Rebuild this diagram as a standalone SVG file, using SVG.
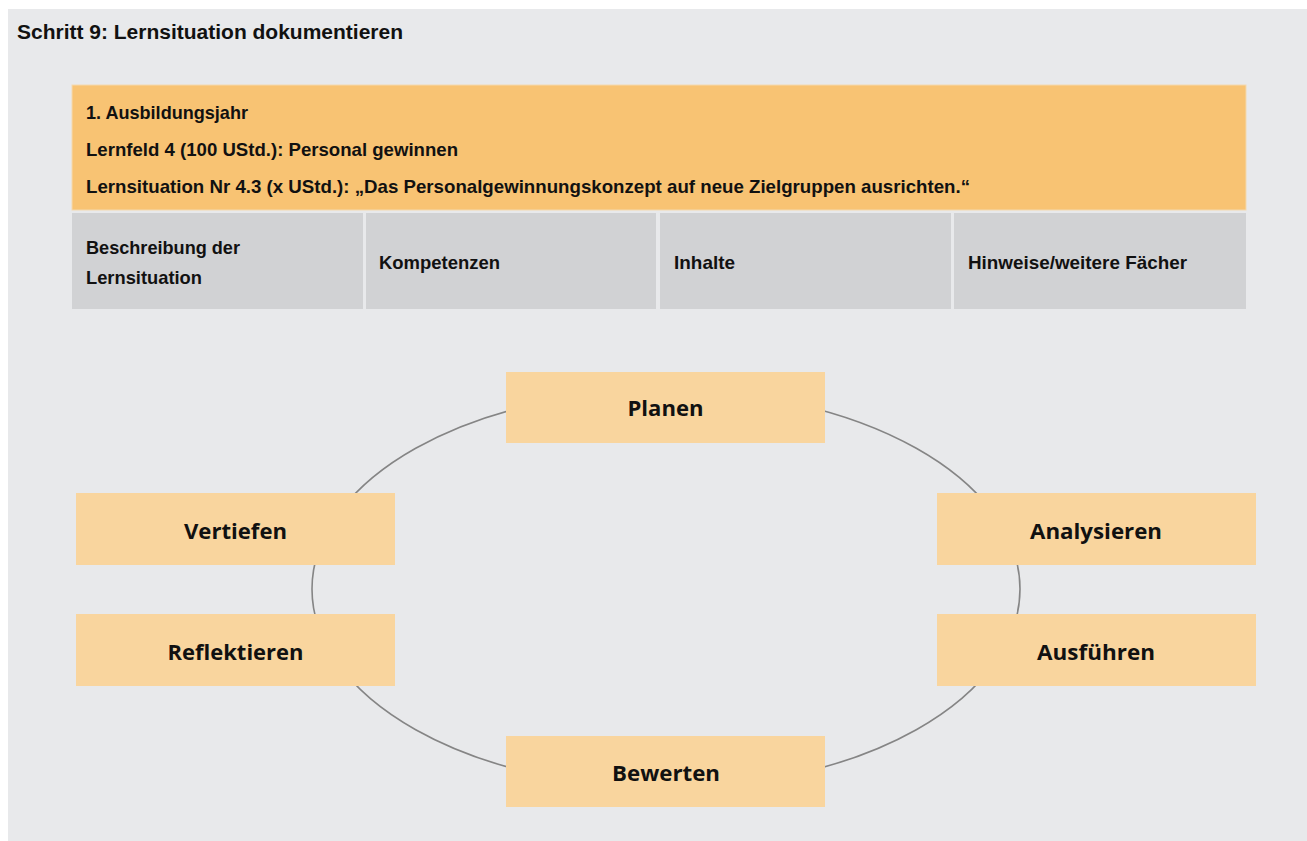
<svg xmlns="http://www.w3.org/2000/svg" width="1307" height="841" viewBox="0 0 1307 841">
<style>
.bg{fill:#e8e9eb}
.hd{fill:#f8c373}
.cell{fill:#d1d2d4}
.box{fill:#f9d59e}
.t{font-family:"Liberation Sans",Arial,sans-serif;font-weight:bold;fill:#111;font-size:19px}
.title{font-size:20px}
.bt{font-family:"Open Sans","DejaVu Sans",sans-serif;font-weight:bold;fill:#111;font-size:22px;text-anchor:middle}
.ring{fill:none;stroke:#858585;stroke-width:1.6}
</style>
<rect class="bg" x="8" y="9" width="1299" height="832"/>
<text class="t title" x="17" y="39" textLength="386" lengthAdjust="spacingAndGlyphs">Schritt 9: Lernsituation dokumentieren</text>
<g id="header">
<rect class="hd" x="72" y="85" width="1174" height="125" stroke="#f3d9b0" stroke-width="1"/>
<text class="t" x="86" y="119" textLength="162" lengthAdjust="spacingAndGlyphs">1. Ausbildungsjahr</text>
<text class="t" x="86" y="156" textLength="372" lengthAdjust="spacingAndGlyphs">Lernfeld 4 (100 UStd.): Personal gewinnen</text>
<text class="t" x="86" y="193" textLength="884" lengthAdjust="spacingAndGlyphs">Lernsituation Nr 4.3 (x UStd.): „Das Personalgewinnungskonzept auf neue Zielgruppen ausrichten.“</text>
</g>
<g id="col1">
<rect class="cell" x="72" y="213" width="291" height="96"/>
<text class="t" x="86" y="254" textLength="154" lengthAdjust="spacingAndGlyphs">Beschreibung der</text>
<text class="t" x="86" y="284" textLength="116" lengthAdjust="spacingAndGlyphs">Lernsituation</text>
</g>
<g id="col2">
<rect class="cell" x="366" y="213" width="290" height="96"/>
<text class="t" x="379" y="269" textLength="121" lengthAdjust="spacingAndGlyphs">Kompetenzen</text>
</g>
<g id="col3">
<rect class="cell" x="660" y="213" width="291" height="96"/>
<text class="t" x="674" y="269" textLength="61" lengthAdjust="spacingAndGlyphs">Inhalte</text>
</g>
<g id="col4">
<rect class="cell" x="954" y="213" width="292" height="96"/>
<text class="t" x="968" y="269" textLength="219" lengthAdjust="spacingAndGlyphs">Hinweise/weitere Fächer</text>
</g>
<g id="connectors">
<ellipse class="ring" cx="666" cy="589" rx="354" ry="199"/>
</g>
<g id="planen">
<rect class="box" x="506" y="372" width="319" height="71"/>
<text class="bt" x="665.5" y="416" textLength="76" lengthAdjust="spacingAndGlyphs">Planen</text>
</g>
<g id="vertiefen">
<rect class="box" x="76" y="493" width="319" height="72"/>
<text class="bt" x="235.5" y="539" textLength="103" lengthAdjust="spacingAndGlyphs">Vertiefen</text>
</g>
<g id="analysieren">
<rect class="box" x="937" y="493" width="319" height="72"/>
<text class="bt" x="1096" y="539" textLength="132" lengthAdjust="spacingAndGlyphs">Analysieren</text>
</g>
<g id="reflektieren">
<rect class="box" x="76" y="614" width="319" height="72"/>
<text class="bt" x="235.5" y="660" textLength="136" lengthAdjust="spacingAndGlyphs">Reflektieren</text>
</g>
<g id="ausfuehren">
<rect class="box" x="937" y="614" width="319" height="72"/>
<text class="bt" x="1096" y="660" textLength="118" lengthAdjust="spacingAndGlyphs">Ausführen</text>
</g>
<g id="bewerten">
<rect class="box" x="506" y="736" width="319" height="71"/>
<text class="bt" x="666" y="781" textLength="108" lengthAdjust="spacingAndGlyphs">Bewerten</text>
</g>
</svg>
